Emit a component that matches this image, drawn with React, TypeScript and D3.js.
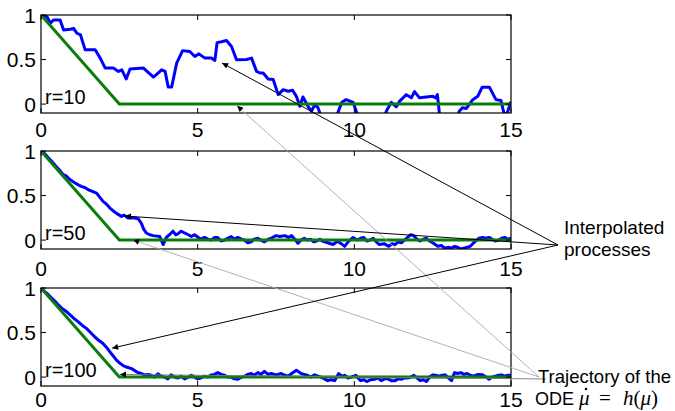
import { useEffect, useRef } from 'react';
import * as d3 from 'd3';

type Pt = [number, number];

const xTicks = [0, 5, 10, 15];
const yTicks = [0, 0.5, 1];
const panelLabels = ['r=10', 'r=50', 'r=100'];

// ODE trajectory, identical in every panel
const odePath: Pt[] = [[0, 1], [2.5, 0], [15, 0]];

// interpolated process, r = 10 (dips below -0.1 get clipped by the axes)
const r10Path: Pt[] = [
  [0, 1], [0.19, 0.98], [0.3, 0.907], [0.4, 0.944], [0.61, 0.944], [0.72, 0.832],
  [0.93, 0.84], [1.04, 0.85], [1.15, 0.795], [1.26, 0.777], [1.41, 0.609], [1.73, 0.609],
  [1.89, 0.516], [2.05, 0.404], [2.31, 0.404], [2.47, 0.367], [2.58, 0.385], [2.72, 0.282],
  [2.84, 0.393], [3.27, 0.404], [3.59, 0.304], [3.85, 0.385], [3.96, 0.367], [4.06, 0.192],
  [4.17, 0.192], [4.33, 0.46], [4.52, 0.6], [4.75, 0.59], [4.91, 0.534], [5.04, 0.564],
  [5.23, 0.516], [5.44, 0.516], [5.55, 0.49], [5.62, 0.69], [5.76, 0.7], [5.92, 0.713],
  [6.08, 0.646], [6.24, 0.497], [6.56, 0.5], [6.72, 0.516], [6.88, 0.367], [6.99, 0.349],
  [7.09, 0.349], [7.25, 0.282], [7.41, 0.275], [7.57, 0.106], [7.73, 0.162], [7.89, 0.144],
  [8.03, 0.155], [8.15, 0.087], [8.26, -0.025], [8.36, 0.08], [8.52, -0.025], [8.63, -0.08],
  [8.74, -0.006], [8.84, -0.04], [8.95, -0.15], [9.2, -0.22], [9.4, -0.15], [9.48, -0.09],
  [9.6, 0.02], [9.74, 0.05], [9.96, 0.02], [10.07, -0.09], [10.2, -0.16], [10.6, -0.25],
  [10.95, -0.14], [11.05, -0.06], [11.18, 0.02], [11.34, -0.03], [11.44, 0.03], [11.66, 0.106],
  [11.82, 0.07], [11.92, 0.14], [12.08, 0.07], [12.3, 0.08], [12.5, 0.087], [12.6, 0.07],
  [12.65, 0.106], [12.72, -0.12], [12.9, -0.25], [13.2, -0.2], [13.3, -0.12], [13.35, -0.08],
  [13.45, -0.04], [13.57, -0.05], [13.78, 0.05], [13.94, 0.087], [14.08, 0.19], [14.31, 0.19],
  [14.52, 0.05], [14.68, 0.04], [14.76, -0.08], [14.82, -0.14], [14.9, -0.08], [14.95, -0.02],
  [15, 0.03],
];

// interpolated process, r = 50
const r50Path: Pt[] = [
  [0, 1], [0.12, 0.97], [0.22, 0.93], [0.34, 0.885], [0.45, 0.84], [0.58, 0.79], [0.71, 0.735],
  [0.8, 0.72], [0.92, 0.68], [1.05, 0.65], [1.19, 0.62], [1.3, 0.6], [1.4, 0.59], [1.51, 0.565],
  [1.62, 0.55], [1.77, 0.528], [1.88, 0.48], [1.98, 0.435], [2.1, 0.4], [2.2, 0.36],
  [2.3, 0.33], [2.41, 0.3], [2.57, 0.266], [2.65, 0.28], [2.78, 0.247], [2.95, 0.25],
  [3.1, 0.24], [3.2, 0.19], [3.28, 0.12], [3.36, 0.08], [3.47, 0.06], [3.58, 0.05],
  [3.79, 0.04], [3.9, -0.05], [4.0, 0.03], [4.1, 0.06], [4.21, 0.1], [4.3, 0.06], [4.37, 0.07],
  [4.47, 0.1], [4.58, 0.08], [4.7, 0.06], [4.8, 0.04], [4.9, 0.06], [5.0, 0.035], [5.1, 0.01],
  [5.22, 0.03], [5.33, 0.01], [5.43, 0.0], [5.54, 0.03], [5.64, 0.03], [5.75, -0.01],
  [5.86, 0.0], [5.96, 0.02], [6.07, 0.04], [6.17, 0.01], [6.28, 0.03], [6.4, 0.01], [6.5, 0.0],
  [6.6, -0.03], [6.71, -0.02], [6.8, 0.01], [6.92, 0.02], [7.02, 0.0], [7.13, -0.02],
  [7.25, 0.01], [7.35, 0.02], [7.5, 0.05], [7.62, 0.04], [7.78, 0.05], [7.9, 0.03], [8.0, 0.05],
  [8.1, 0.01], [8.2, -0.035], [8.3, 0.0], [8.4, 0.02], [8.5, 0.0], [8.6, 0.01], [8.7, -0.02],
  [8.8, -0.01], [8.9, 0.01], [9.0, -0.015], [9.15, -0.03], [9.32, -0.05], [9.4, -0.03],
  [9.48, -0.015], [9.58, -0.04], [9.69, -0.07], [9.8, -0.02], [9.96, 0.03], [10.1, 0.0],
  [10.2, 0.02], [10.3, 0.03], [10.4, -0.01], [10.5, 0.0], [10.6, 0.02], [10.7, -0.02],
  [10.8, -0.05], [10.95, -0.04], [11.1, -0.07], [11.2, -0.04], [11.3, -0.05], [11.4, -0.02],
  [11.5, -0.03], [11.6, 0.0], [11.7, 0.03], [11.8, 0.06], [11.9, 0.05], [12.0, 0.01],
  [12.1, -0.01], [12.2, 0.01], [12.3, 0.02], [12.4, -0.01], [12.5, -0.03], [12.66, -0.07],
  [12.78, -0.06], [12.88, -0.09], [13.0, -0.08], [13.1, -0.09], [13.2, -0.07], [13.3, -0.08],
  [13.4, -0.1], [13.5, -0.09], [13.6, -0.08], [13.7, -0.07], [13.78, -0.04], [13.86, -0.015],
  [13.97, 0.02], [14.1, 0.03], [14.2, 0.02], [14.3, 0.03], [14.4, 0.01], [14.5, -0.01],
  [14.6, 0.0], [14.7, 0.02], [14.8, 0.03], [14.9, 0.01], [15, 0.02],
];

// interpolated process, r = 100
const r100Path: Pt[] = [
  [0, 1], [0.12, 0.96], [0.22, 0.93], [0.34, 0.887], [0.45, 0.85], [0.55, 0.81], [0.66, 0.774],
  [0.8, 0.74], [0.92, 0.7], [1.05, 0.66], [1.19, 0.62], [1.32, 0.58], [1.45, 0.547],
  [1.58, 0.5], [1.72, 0.45], [1.85, 0.41], [1.98, 0.377], [2.1, 0.33], [2.2, 0.283],
  [2.3, 0.24], [2.41, 0.19], [2.52, 0.155], [2.62, 0.13], [2.75, 0.11], [2.89, 0.095],
  [3.0, 0.07], [3.1, 0.05], [3.2, 0.04], [3.31, 0.025], [3.42, 0.03], [3.52, 0.02],
  [3.62, 0.0], [3.73, 0.038], [3.83, 0.01], [3.94, 0.0], [4.05, -0.02], [4.15, 0.025],
  [4.26, 0.0], [4.37, -0.01], [4.47, 0.01], [4.58, -0.02], [4.7, 0.0], [4.8, 0.02],
  [4.9, 0.0], [5.0, -0.02], [5.1, -0.01], [5.22, 0.01], [5.33, 0.0], [5.43, 0.025],
  [5.54, 0.03], [5.64, 0.05], [5.75, 0.03], [5.86, 0.02], [5.96, 0.0], [6.07, 0.0],
  [6.17, -0.02], [6.28, -0.025], [6.4, 0.0], [6.5, 0.01], [6.6, 0.03], [6.71, 0.04],
  [6.8, 0.02], [6.92, 0.05], [7.02, 0.03], [7.13, 0.065], [7.25, 0.03], [7.35, 0.04],
  [7.5, 0.025], [7.67, 0.04], [7.78, 0.02], [7.89, 0.01], [8.0, 0.04], [8.15, 0.076],
  [8.3, 0.04], [8.4, 0.03], [8.5, 0.02], [8.62, 0.0], [8.73, 0.025], [8.84, 0.01],
  [8.94, 0.0], [9.05, -0.02], [9.15, -0.04], [9.26, -0.03], [9.37, -0.04], [9.5, 0.04],
  [9.6, 0.01], [9.69, 0.02], [9.8, -0.01], [9.9, 0.0], [10.05, 0.02], [10.12, -0.01],
  [10.2, -0.04], [10.3, -0.03], [10.4, -0.05], [10.52, -0.03], [10.65, -0.025], [10.75, -0.01],
  [10.86, -0.04], [10.97, -0.02], [11.07, -0.02], [11.18, -0.04], [11.3, -0.04], [11.4, -0.02],
  [11.5, -0.025], [11.6, -0.01], [11.7, -0.01], [11.8, 0.0], [11.9, 0.02], [12.0, -0.01],
  [12.1, -0.04], [12.2, -0.03], [12.3, -0.05], [12.4, 0.0], [12.5, 0.025], [12.6, 0.02],
  [12.7, 0.01], [12.8, 0.02], [12.9, 0.025], [13.0, -0.01], [13.1, -0.04], [13.2, 0.05],
  [13.3, 0.04], [13.4, 0.05], [13.5, 0.03], [13.6, 0.04], [13.7, 0.02], [13.8, 0.01],
  [13.95, 0.03], [14.1, 0.025], [14.2, 0.0], [14.3, -0.025], [14.4, 0.0], [14.5, 0.01],
  [14.6, 0.02], [14.7, 0.025], [14.8, 0.01], [14.9, 0.02], [15, 0.02],
];

const processPaths = [r10Path, r50Path, r100Path];

// arrow targets in data coordinates, one per panel
const processTargets: Pt[] = [[5.78, 0.46], [2.68, 0.27], [2.27, 0.325]];
const odeTargets: Pt[] = [[6.26, -0.02], [2.94, 0.0], [2.52, 0.03]];

export default function App() {
  const svgRef = useRef<SVGSVGElement>(null);
  const width = 675;
  const height = 411;

  useEffect(() => {
    if (!svgRef.current) return;
    const svg = d3.select(svgRef.current);
    svg.selectAll('*').remove();

    const font = '"Liberation Sans", Arial, Helvetica, sans-serif';
    const serif = '"Liberation Serif", "DejaVu Serif", serif';
    const panelTops = [15, 151, 288];
    const labelGap = [24, 27, 21];
    const panelH = 98;
    const left = 41;
    const right = 511;

    const x = d3.scaleLinear().domain([0, 15]).range([left, right]);

    const defs = svg.append('defs');
    defs.append('marker')
      .attr('id', 'arrow')
      .attr('viewBox', '0 0 10 10')
      .attr('refX', 10)
      .attr('refY', 5)
      .attr('markerWidth', 8)
      .attr('markerHeight', 6)
      .attr('markerUnits', 'userSpaceOnUse')
      .attr('orient', 'auto')
      .append('path')
      .attr('d', 'M0,0 L10,5 L0,10 z')
      .attr('fill', '#000');

    const yScales = panelTops.map(top =>
      d3.scaleLinear().domain([-0.1, 1]).range([top + panelH, top])
    );

    panelTops.forEach((top, i) => {
      const y = yScales[i];
      const g = svg.append('g');

      defs.append('clipPath')
        .attr('id', `clip${i}`)
        .append('rect')
        .attr('x', left)
        .attr('y', top)
        .attr('width', right - left)
        .attr('height', panelH);

      g.append('rect')
        .attr('x', left).attr('y', top)
        .attr('width', right - left).attr('height', panelH)
        .attr('fill', '#fff');

      const line = d3.line<Pt>().x(d => x(d[0])).y(d => y(d[1]));

      const plot = g.append('g').attr('clip-path', `url(#clip${i})`);
      plot.append('path')
        .attr('d', line(processPaths[i]))
        .attr('fill', 'none')
        .attr('stroke', '#0000ff')
        .attr('stroke-width', 3)
        .attr('stroke-linejoin', 'round');
      plot.append('path')
        .attr('d', line(odePath))
        .attr('fill', 'none')
        .attr('stroke', '#0a7d0a')
        .attr('stroke-width', 3);

      // box and inner ticks on all four sides
      g.append('rect')
        .attr('x', left).attr('y', top)
        .attr('width', right - left).attr('height', panelH)
        .attr('fill', 'none')
        .attr('stroke', '#000')
        .attr('stroke-width', 1.2);

      xTicks.forEach(t => {
        g.append('line')
          .attr('x1', x(t)).attr('x2', x(t))
          .attr('y1', top + panelH).attr('y2', top + panelH - 5)
          .attr('stroke', '#000');
        g.append('line')
          .attr('x1', x(t)).attr('x2', x(t))
          .attr('y1', top).attr('y2', top + 5)
          .attr('stroke', '#000');
        g.append('text')
          .attr('x', x(t))
          .attr('y', top + panelH + labelGap[i])
          .attr('text-anchor', 'middle')
          .attr('font-family', font)
          .attr('font-size', 21)
          .text(String(t));
      });

      yTicks.forEach(v => {
        g.append('line')
          .attr('x1', left).attr('x2', left + 5)
          .attr('y1', y(v)).attr('y2', y(v))
          .attr('stroke', '#000');
        g.append('line')
          .attr('x1', right).attr('x2', right - 5)
          .attr('y1', y(v)).attr('y2', y(v))
          .attr('stroke', '#000');
        g.append('text')
          .attr('x', left - 5)
          .attr('y', y(v))
          .attr('dy', '0.36em')
          .attr('text-anchor', 'end')
          .attr('font-family', font)
          .attr('font-size', 21)
          .text(String(v));
      });

      g.append('text')
        .attr('x', left + 4)
        .attr('y', y(0))
        .attr('font-family', font)
        .attr('font-size', 20)
        .text(panelLabels[i]);
    });

    // annotation lines
    const procSrc: Pt = [558, 245];
    const odeSrc: Pt = [539, 377];
    const ann = svg.append('g');

    odeTargets.forEach((d, i) => {
      const src = i === 2 ? [546, 379] : odeSrc;
      ann.append('line')
        .attr('x1', src[0]).attr('y1', src[1])
        .attr('x2', x(d[0])).attr('y2', yScales[i](d[1]))
        .attr('stroke', i === 2 ? '#777' : '#aaa')
        .attr('stroke-width', 0.9)
        .attr('marker-end', 'url(#arrow)');
    });

    processTargets.forEach((d, i) => {
      ann.append('line')
        .attr('x1', procSrc[0]).attr('y1', procSrc[1])
        .attr('x2', x(d[0])).attr('y2', yScales[i](d[1]))
        .attr('stroke', '#000')
        .attr('stroke-width', 1)
        .attr('marker-end', 'url(#arrow)');
    });

    const label = svg.append('g')
      .attr('font-family', font)
      .attr('font-size', 19);
    label.append('text').attr('x', 564).attr('y', 234).text('Interpolated');
    label.append('text').attr('x', 564).attr('y', 256).text('processes');
    label.append('text').attr('x', 538).attr('y', 383).attr('font-size', 18.5).text('Trajectory of the');

    // ODE  mu-dot = h(mu), math set in italic serif
    label.append('text').attr('x', 535).attr('y', 405).attr('font-size', 18).text('ODE');
    const math = label.append('g').attr('font-family', serif).attr('font-size', 21);
    math.append('text').attr('x', 579).attr('y', 405).attr('font-style', 'italic').text('\u03bc');
    math.append('circle').attr('cx', 586).attr('cy', 389).attr('r', 1.3).attr('fill', '#000');
    math.append('text').attr('x', 599).attr('y', 405).text('=');
    const rhs = math.append('text').attr('x', 623).attr('y', 405);
    rhs.append('tspan').attr('font-style', 'italic').text('h');
    rhs.append('tspan').text('(');
    rhs.append('tspan').attr('font-style', 'italic').text('\u03bc');
    rhs.append('tspan').text(')');
  }, []);

  return (
    <div style={{ position: 'absolute', left: 0, top: 0 }}>
      <svg ref={svgRef} width={width} height={height} style={{ display: 'block', background: '#fff' }} />
    </div>
  );
}
